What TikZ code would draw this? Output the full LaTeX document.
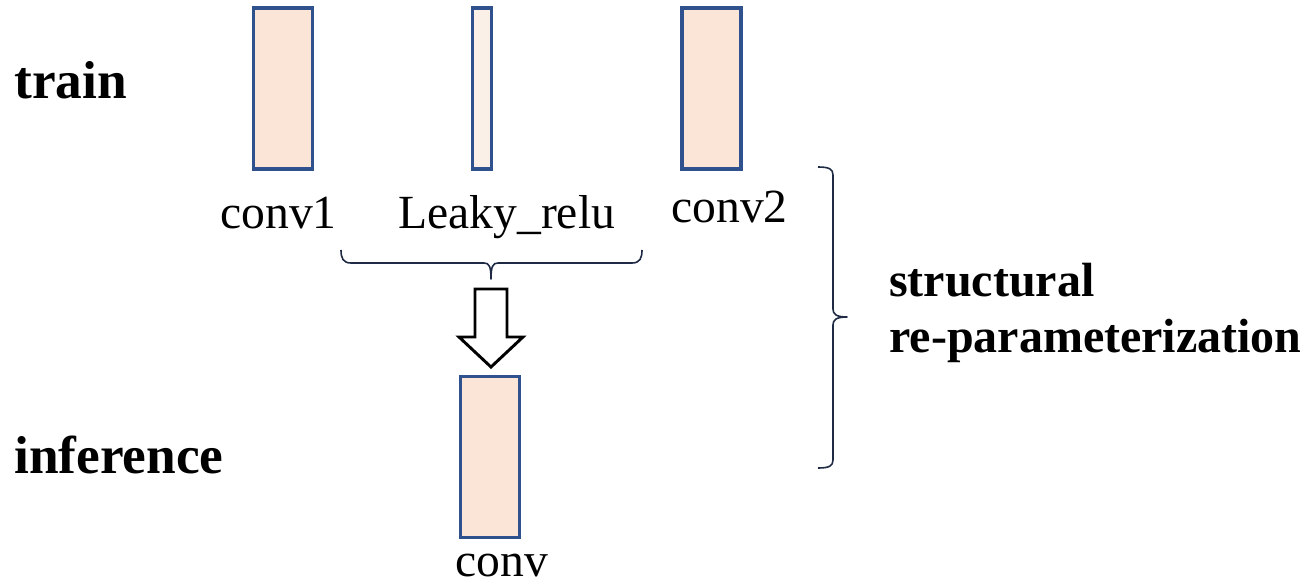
\documentclass[tikz,border=0pt]{standalone}
\usepackage{fontspec}
\usetikzlibrary{calc}
\setmainfont{Liberation Serif}
\definecolor{convfill}{HTML}{FBE5D6}
\definecolor{actfill}{HTML}{FBF0E7}
\definecolor{boxline}{HTML}{2F528F}
\definecolor{braceline}{HTML}{1F2A44}
\tikzset{
  layer/.style={draw=boxline, line width=2.3pt, fill=convfill, inner sep=0pt,
    minimum width=44.25pt, minimum height=120.75pt},
  actlayer/.style={layer, fill=actfill, minimum width=14.25pt},
  lbl/.style={anchor=base west, inner sep=0pt, font=\fontsize{35.7}{42}\selectfont},
  head/.style={anchor=base west, inner sep=0pt, font=\fontsize{40}{48}\selectfont\bfseries},
  side/.style={anchor=base west, inner sep=0pt, font=\fontsize{36}{42}\selectfont\bfseries},
  bracepath/.style={draw=braceline, line width=1.2pt, line join=round},
  bigarrow/.style={draw=black, line width=2.2pt, fill=white, line join=miter}
}
\begin{document}
\begin{tikzpicture}[x=0.75pt, y=-0.75pt]
  \useasboundingbox (0,0) rectangle (1304,586);

  % stage titles
  \node[head] (train) at (14,98) {train};
  \node[head] (inference) at (14,473) {inference};

  % training-time block: conv -> activation -> conv
  \node[layer] (conv1) at (283,88.5) {};
  \node[actlayer] (act) at (482,88.5) {};
  \node[layer] (conv2) at (711.5,88.5) {};
  \node[lbl] (conv1lbl) at (220,228) {conv1};
  \node[lbl] (actlbl) at (398,228) {Leaky\_relu};
  \node[lbl] (conv2lbl) at (671,222) {conv2};

  % inference-time block: single merged conv
  \node[layer] (conv) at (490,457) {};
  \node[lbl] (convlbl) at (455,576) {conv};

  % brace under the activation and second conv
  \coordinate (hbl) at (341,250);
  \coordinate (hbr) at (642,250);
  \coordinate (hbtip) at (491,279);
  \path[bracepath] (hbl) .. controls (341,258) and (343,263) .. (351,263)
    -- (484,263) .. controls (489,263) and (491,266) .. (hbtip)
    .. controls (491,266) and (493,263) .. (498,263)
    -- (632,263) .. controls (640,263) and (642,258) .. (hbr);

  % hollow arrow from the braced part to the merged conv
  \coordinate (arrtop) at (491,289);
  \coordinate (arrtip) at (491,367);
  \path[bigarrow] ($(arrtop)+(-16,0)$) -- ($(arrtop)+(16,0)$) -- (507,337)
    -- (523,337) -- (arrtip) -- (459,337) -- (475,337) -- cycle;

  % brace spanning both stages
  \coordinate (vbt) at (818,167);
  \coordinate (vbb) at (818,468);
  \coordinate (vbtip) at (847,317);
  \path[bracepath] (vbt) .. controls (829,167) and (833,169) .. (833,175)
    -- (833,309) .. controls (833,314) and (836,317) .. (vbtip)
    .. controls (836,317) and (833,320) .. (833,325)
    -- (833,460) .. controls (833,466) and (829,468) .. (vbb);

  \node[side] (side1) at (889,296) {structural};
  \node[side] (side2) at (889,352) {re-parameterization};
\end{tikzpicture}
\end{document}
